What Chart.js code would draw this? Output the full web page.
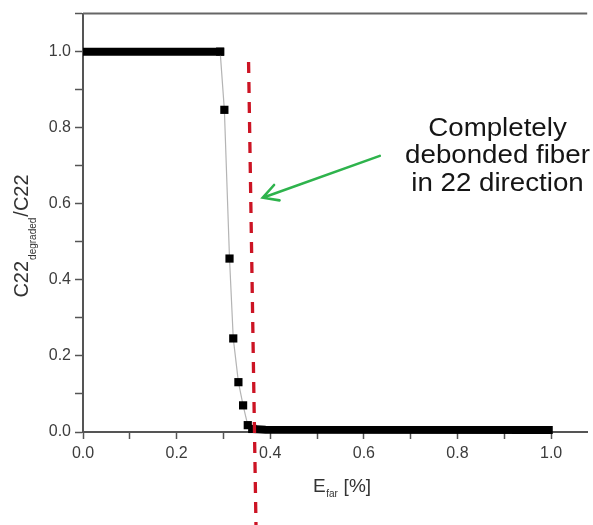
<!DOCTYPE html>
<html>
<head>
<meta charset="utf-8">
<script src="https://cdn.jsdelivr.net/npm/chart.js@4"></script>
<style>
    body { margin: 0; background: #fff; }
    #wrap { width: 593px; height: 525px; position: relative; }
</style>
</head>
<body>
<div id="wrap"><canvas id="stiffChart"></canvas></div>
<script>
// data
const highPlateauX = [0, 0.293];
const highPlateauY = [1.0, 1.0];

const dropX = [0.293, 0.302, 0.313, 0.321, 0.332, 0.342, 0.352, 0.362];
const dropY = [1.0, 0.847, 0.456, 0.246, 0.131, 0.070, 0.018, 0.008];

const lowPlateauX = [0.362, 0.39, 0.995];
const lowPlateauY = [0.008, 0.006, 0.005];

// red dashed marker (slightly slanted in the original)
const markerX = [0.3537, 0.3696];
const markerY = [0.9725, -0.25];

const noteLines = ["Completely", "debonded fiber", "in 22 direction"];

const toPoints = (xs, ys) => xs.map((x, i) => ({ x: x, y: ys[i] }));

const axisColor = "#555555";
const tickFont = { family: "Liberation Sans, Arial", size: 16 };

const extras = {
    id: "extras",
    afterDraw(chart) {
        const c = chart.ctx;
        const area = chart.chartArea;
        const xs = chart.scales.x;
        const ys = chart.scales.y;

        // top frame line
        c.save();
        c.strokeStyle = "#666";
        c.lineWidth = 2;
        c.beginPath();
        c.moveTo(area.left, area.top);
        c.lineTo(area.right, area.top);
        c.stroke();
        c.restore();

        // x title: E_far [%]
        c.save();
        c.fillStyle = "#333";
        c.textBaseline = "alphabetic";
        c.font = "19px Liberation Sans, Arial";
        let x0 = 313;
        const yb = 491.5;
        c.fillText("E", x0, yb);
        x0 += c.measureText("E").width;
        c.font = "10px Liberation Sans, Arial";
        c.fillText("far", x0 + 0.5, yb + 5);
        x0 += c.measureText("far").width + 1;
        c.font = "19px Liberation Sans, Arial";
        c.fillText(" [%]", x0, yb);
        c.restore();

        // y title: C22_degraded / C22
        c.save();
        c.translate(22, 236);
        c.rotate(-Math.PI / 2);
        c.fillStyle = "#333";
        c.textBaseline = "alphabetic";
        c.font = "20px Liberation Sans, Arial";
        const wA = c.measureText("C22").width;
        const wC = c.measureText("/C22").width;
        c.font = "10px Liberation Sans, Arial";
        const wB = c.measureText("degraded").width + 2;
        let u = -(wA + wB + wC) / 2;
        c.font = "20px Liberation Sans, Arial";
        c.fillText("C22", u, 6);
        u += wA + 1;
        c.font = "10px Liberation Sans, Arial";
        c.fillText("degraded", u, 14);
        u += wB - 1;
        c.font = "20px Liberation Sans, Arial";
        c.fillText("/C22", u, 6);
        c.restore();

        // green arrow
        const tail = { x: xs.getPixelForValue(0.634), y: ys.getPixelForValue(0.726) };
        const tip = { x: xs.getPixelForValue(0.384), y: ys.getPixelForValue(0.616) };
        const ang = Math.atan2(tail.y - tip.y, tail.x - tip.x);
        const wing = 17, spread = 0.5;
        c.save();
        c.strokeStyle = "#2eb34c";
        c.lineWidth = 2.6;
        c.lineCap = "round";
        c.beginPath();
        c.moveTo(tail.x, tail.y);
        c.lineTo(tip.x, tip.y);
        c.moveTo(tip.x + wing * Math.cos(ang - spread), tip.y + wing * Math.sin(ang - spread));
        c.lineTo(tip.x, tip.y);
        c.lineTo(tip.x + wing * Math.cos(ang + spread), tip.y + wing * Math.sin(ang + spread));
        c.stroke();
        c.restore();

        // annotation text
        c.save();
        c.fillStyle = "#151515";
        c.font = "26px Liberation Sans, Arial";
        c.textAlign = "center";
        c.textBaseline = "alphabetic";
        noteLines.forEach((line, i) => {
            c.save();
            c.translate(497.5, 136 + i * 27.3);
            c.scale(1.065, 1);
            c.fillText(line, 0, 0);
            c.restore();
        });
        c.restore();
    }
};

const labelEven = v => {
    const k = Math.round(v * 10);
    return k % 2 === 0 ? (k / 10).toFixed(1) : "";
};

new Chart(document.getElementById("stiffChart"), {
    type: "line",
    data: {
        datasets: [
            {
                data: toPoints(markerX, markerY),
                borderColor: "#cc1424",
                borderWidth: 3.3,
                borderDash: [11, 9],
                pointRadius: 0,
                clip: false,
                order: 0
            },
            {
                data: toPoints(dropX, dropY),
                borderColor: "#b4b4b4",
                borderWidth: 1.2,
                pointStyle: "rect",
                pointRadius: 5.8,
                pointBorderWidth: 0,
                pointBackgroundColor: "#000",
                clip: false,
                order: 1
            },
            {
                data: toPoints(highPlateauX, highPlateauY),
                borderColor: "#000",
                borderWidth: 8,
                borderCapStyle: "square",
                pointRadius: 0,
                clip: { left: 0, top: false, right: false, bottom: false },
                order: 2
            },
            {
                data: toPoints(lowPlateauX, lowPlateauY),
                borderColor: "#000",
                borderWidth: 8,
                borderCapStyle: "square",
                pointRadius: 0,
                clip: { left: false, top: false, right: 0, bottom: false },
                order: 2
            }
        ]
    },
    options: {
        responsive: true,
        maintainAspectRatio: false,
        animation: false,
        layout: { padding: { top: 12, right: 0, bottom: 0, left: 0 } },
        plugins: {
            legend: { display: false },
            tooltip: { enabled: false }
        },
        scales: {
            x: {
                type: "linear",
                min: 0,
                max: 1.0771,
                afterFit: s => { s.height = 93; },
                ticks: {
                    stepSize: 0.1,
                    includeBounds: false,
                    autoSkip: false,
                    maxRotation: 0,
                    callback: labelEven,
                    color: "#3c3c3c",
                    font: tickFont,
                    padding: 5
                },
                grid: {
                    drawOnChartArea: false,
                    tickLength: 7,
                    tickColor: axisColor,
                    tickWidth: 1.5
                },
                border: { color: axisColor, width: 2 }
            },
            y: {
                min: 0,
                max: 1.1,
                afterFit: s => { s.width = 83; },
                ticks: {
                    stepSize: 0.1,
                    includeBounds: false,
                    autoSkip: false,
                    callback: labelEven,
                    color: "#3c3c3c",
                    font: tickFont,
                    padding: 4
                },
                grid: {
                    drawOnChartArea: false,
                    tickLength: 8,
                    tickColor: axisColor,
                    tickWidth: 1.5
                },
                border: { color: axisColor, width: 2 }
            }
        }
    },
    plugins: [extras]
});
</script>
</body>
</html>
